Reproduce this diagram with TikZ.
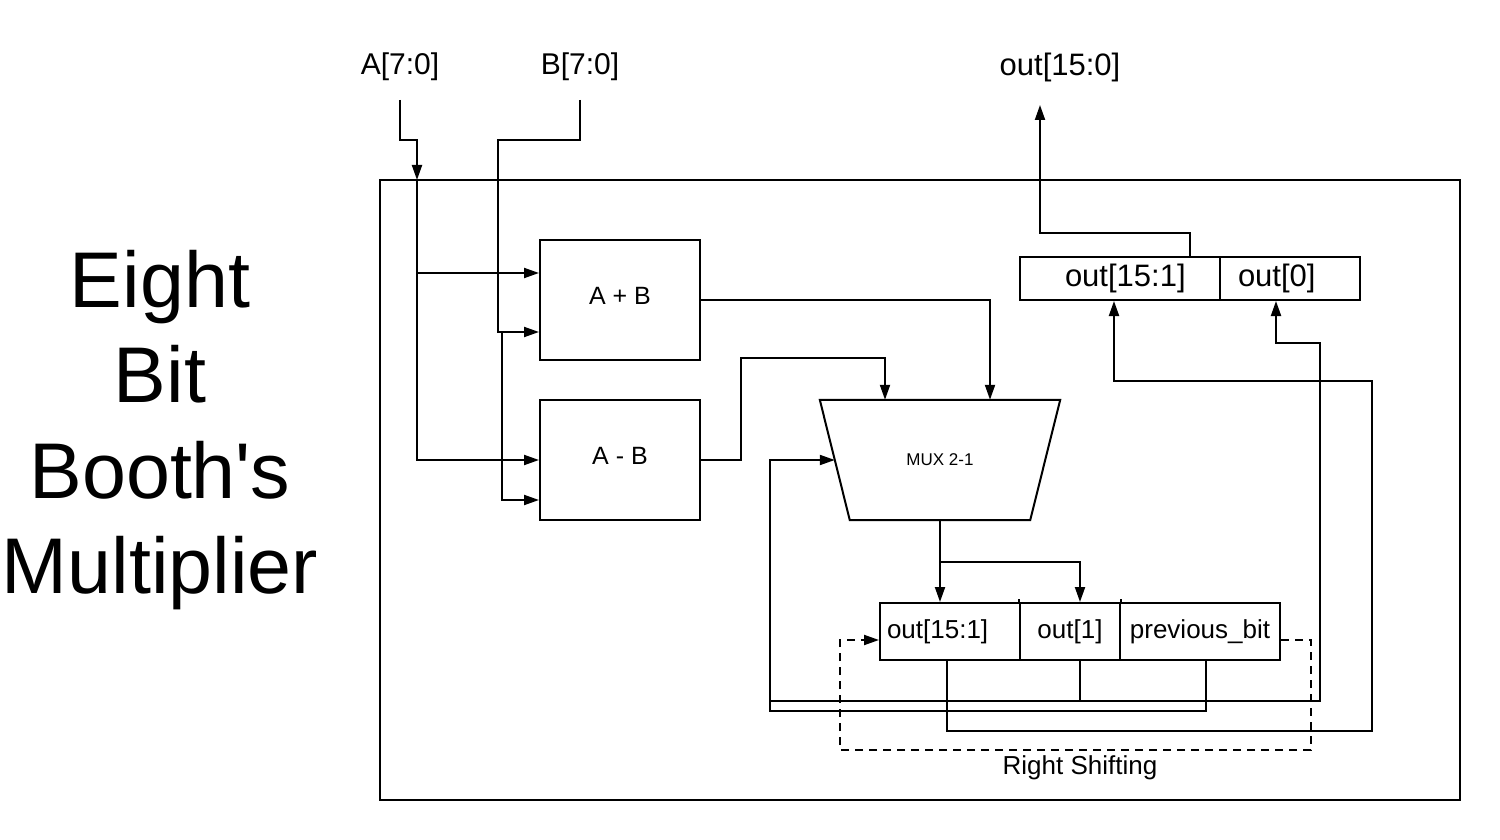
\documentclass[tikz,border=0pt]{standalone}
\usepackage{fontspec}
\setmainfont{Liberation Sans}
\usetikzlibrary{arrows.meta}
\begin{document}
\begin{tikzpicture}[x=1pt,y=-1pt,
  wire/.style={line width=2pt},
  arr/.style={wire,-{Triangle[length=15pt,width=10pt]}},
  box/.style={draw,line width=2pt,inner sep=0pt},
  lbl/.style={inner sep=0pt},
  fbig/.style={font=\fontsize{31}{37}\selectfont},
  fin/.style={font=\fontsize{30}{36}\selectfont},
  fmid/.style={font=\fontsize{26}{31}\selectfont},
  fop/.style={font=\fontsize{25}{30}\selectfont},
]
\useasboundingbox (0,0) rectangle (1500,840);

% title
\node[lbl, align=center, font=\fontsize{79}{95.5}\selectfont] (title) at (160,430) {Eight\\Bit\\Booth\textquotesingle s\\Multiplier};

% outer frame
\node[box, minimum width=1080pt, minimum height=620pt] (outer) at (920,490) {};

% input / output labels
\node[lbl, fin] (al) at (400,67) {A[7:0]};
\node[lbl, fin] (bl) at (580,67) {B[7:0]};
\node[lbl, fbig] (outl) at (1060,67) {out[15:0]};
\coordinate (ain) at (400,100);
\coordinate (bin) at (580,100);
\coordinate (oend) at (1040,105);

% adders
\node[box, fop, minimum width=160pt, minimum height=120pt, text depth=9pt] (addb) at (620,300) {A + B};
\node[box, fop, minimum width=160pt, minimum height=120pt, text depth=9pt] (asub) at (620,460) {A - B};

% mux (trapezium: top 240 wide, bottom 180 wide)
\node[lbl, minimum width=180pt, minimum height=120pt, font=\fontsize{17}{20}\selectfont] (mux) at (940,460) {MUX 2-1};
\draw[wire] ([xshift=-30pt]mux.north west) -- ([xshift=30pt]mux.north east) -- (mux.south east) -- (mux.south west) -- cycle;
\coordinate (muxin) at ([xshift=-15pt]mux.west);

% top register
\node[box, fbig, minimum height=43pt, text width=110pt, inner xsep=45pt, align=left] (t15) at (1120,278.5) {out[15:1]};
\node[box, fbig, minimum height=43pt, text width=104pt, inner xsep=18pt, align=left] (t0) at (1290,278.5) {out[0]};

% bottom register
\node[box, fmid, minimum height=57pt, text width=126pt, inner xsep=7pt, align=left] (b15) at (950,631.5) {out[15:1]};
\node[box, fmid, minimum width=100pt, minimum height=57pt] (b1) at (1070,631.5) {out[1]};
\node[box, fmid, minimum width=160pt, minimum height=57pt] (bpb) at (1200,631.5) {previous\_bit};
\draw[wire] (b1.north west) -- ++(0,-3);
\draw[wire] (b1.north east) -- ++(0,-3);

\node[lbl, fmid] (rs) at (1080,768) {Right Shifting};

% A input
\coordinate (aj) at (417,180);
\coordinate (addin1) at ([yshift=27pt]addb.west);
\coordinate (addin2) at ([yshift=-32pt]addb.west);
\coordinate (subin2) at ([yshift=-40pt]asub.west);
\draw[arr] (ain) -- ++(0,40) -| (aj);
\draw[arr] (aj) |- (asub.west);
\draw[arr] (aj |- addin1) -- (addin1);

% B input
\draw[arr] (bin) -- ++(0,40) -| ([xshift=-41pt]addin2) -- (addin2);
\draw[arr] ([xshift=-37pt]addin2) |- (subin2);

% adders to mux
\draw[arr] (addb.east) -| ([xshift=50pt]mux.north);
\draw[arr] (asub.east) -- ++(40,0) -- ++(0,-102) -| ([xshift=-55pt]mux.north);

% mux to bottom register
\draw[arr] (mux.south) -- (b15.north -| mux.south);
\draw[arr] ([yshift=-42pt]mux.south) -| ([xshift=10pt]b1.north);

% bottom register feedback
\coordinate (sel) at ([xshift=-65pt]muxin);
\coordinate (b1j) at ([xshift=10pt,yshift=-40pt]b1.south);
\draw[arr] ([xshift=-3pt]b15.south) -- ++(0,70) -- ++(425,0) -- ++(0,-350) -| ([xshift=-6pt]t15.south);
\draw[arr] ([xshift=10pt]b1.south) -- (b1j) -- ++(240,0) -- ++(0,-358) -| ([xshift=-14pt]t0.south);
\draw[wire] (sel |- b1j) -- (b1j);
\draw[arr] ([xshift=6pt]bpb.south) -- ++(0,50) -| (sel) -- (muxin);

% right shifting (dashed)
\draw[arr, dash pattern=on 8pt off 6pt] ([yshift=-8.5pt]bpb.east) -- ++(30,0) -- ++(0,110) -- ++(-471,0) |- ([yshift=-8.5pt]b15.west);

% output
\draw[arr] ([xshift=70pt]t15.north) -- ++(0,-23) -| (oend);

\end{tikzpicture}
\end{document}
